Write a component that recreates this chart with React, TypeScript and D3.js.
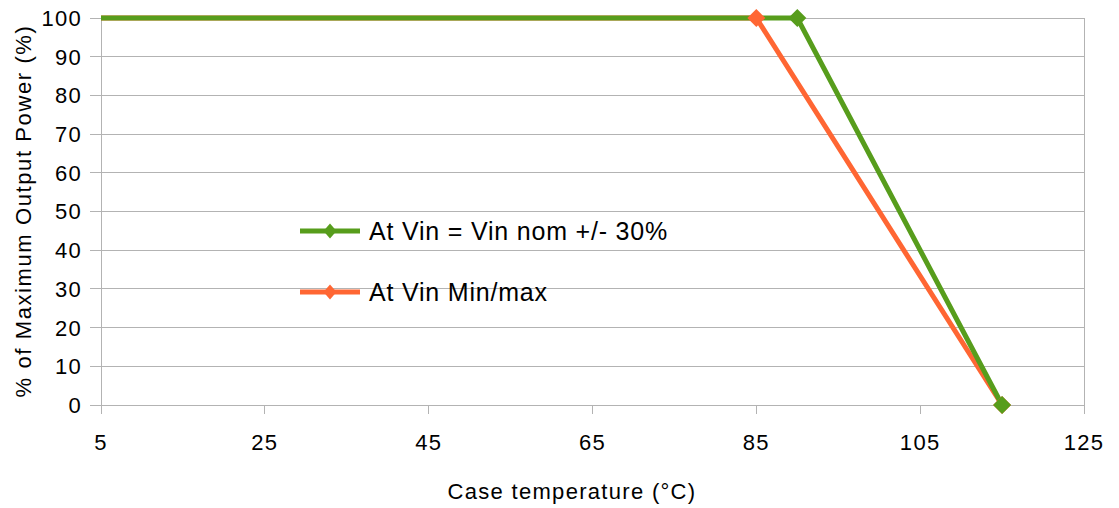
import React from "react";
import * as d3 from "d3";

// Derating curves: case temperature (°C) vs % of max output power
const nomTemps = [-40, 90, 115];
const nomPower = [100, 100, 0];
const minMaxTemps = [-40, 85, 115];
const minMaxPower = [100, 100, 0];

const xTicks = [5, 25, 45, 65, 85, 105, 125];
const yTicks = [0, 10, 20, 30, 40, 50, 60, 70, 80, 90, 100];

const seriesNames = ["At Vin = Vin nom +/- 30%", "At Vin Min/max"];
const seriesColors = ["#579d1c", "#ff6633"];

const W = 1119;
const H = 508;
const M = { left: 101, right: 1084, top: 18, bottom: 405 };

export default function App() {
  const x = d3.scaleLinear().domain([5, 125]).range([M.left, M.right]);
  const y = d3.scaleLinear().domain([0, 100]).range([M.bottom, M.top]);

  const line = d3
    .line<[number, number]>()
    .x((d) => x(d[0]))
    .y((d) => y(d[1]));

  const series = [
    { pts: nomTemps.map((t, i) => [t, nomPower[i]] as [number, number]), color: seriesColors[0], name: seriesNames[0] },
    { pts: minMaxTemps.map((t, i) => [t, minMaxPower[i]] as [number, number]), color: seriesColors[1], name: seriesNames[1] },
  ];
  // draw order: min/max first, nominal on top
  const drawOrder = [series[1], series[0]];

  const diamond = (cx: number, cy: number, rx: number, ry: number) =>
    `M${cx},${cy - ry}L${cx + rx},${cy}L${cx},${cy + ry}L${cx - rx},${cy}Z`;

  const font = "'Liberation Sans', Arial, sans-serif";
  const grid = "#b3b3b3";

  return (
    <svg width={W} height={H} style={{ position: "absolute", left: 0, top: 0, background: "#fff" }} fontFamily={font}>
      <defs>
        <clipPath id="plotClip">
          <rect x={M.left} y={0} width={W - M.left} height={H} />
        </clipPath>
      </defs>
      {/* horizontal gridlines */}
      {yTicks.map((t) => (
        <line key={"g" + t} x1={M.left - 11} x2={M.right} y1={y(t)} y2={y(t)} stroke={grid} strokeWidth={1} shapeRendering="crispEdges" />
      ))}
      {/* axes + right border */}
      <line x1={M.left} x2={M.left} y1={M.top} y2={M.bottom + 9} stroke={grid} shapeRendering="crispEdges" />
      <line x1={M.right} x2={M.right} y1={M.top} y2={M.bottom + 9} stroke={grid} shapeRendering="crispEdges" />
      {xTicks.map((t) => (
        <line key={"xt" + t} x1={x(t)} x2={x(t)} y1={M.bottom} y2={M.bottom + 9} stroke={grid} shapeRendering="crispEdges" />
      ))}
      {/* tick labels */}
      {yTicks.map((t) => (
        <text key={"yl" + t} x={82} y={y(t)} dy="0.36em" textAnchor="end" fontSize={22} letterSpacing={1.3} fill="#000">
          {t}
        </text>
      ))}
      {xTicks.map((t) => (
        <text key={"xl" + t} x={x(t)} y={450} textAnchor="middle" fontSize={22} letterSpacing={1.3} fill="#000">
          {t}
        </text>
      ))}
      {/* axis titles */}
      <text x={572} y={499} textAnchor="middle" fontSize={22} letterSpacing={1.3} fill="#000">
        Case temperature (°C)
      </text>
      <text transform={`translate(31,${211}) rotate(-90)`} textAnchor="middle" fontSize={22} letterSpacing={1.6} fill="#000">
        % of Maximum Output Power (%)
      </text>
      {/* series lines */}
      <g clipPath="url(#plotClip)">
        {drawOrder.map((s) => (
          <path key={"l" + s.name} d={line(s.pts) || ""} fill="none" stroke={s.color} strokeWidth={5} strokeLinejoin="miter" />
        ))}
        {drawOrder.map((s) =>
          s.pts.map((p, i) => <path key={s.name + i} d={diamond(x(p[0]), y(p[1]), 9, 9)} fill={s.color} />)
        )}
      </g>
      {/* legend */}
      {series.map((s, i) => {
        const ly = 231 + i * 61;
        return (
          <g key={"lg" + i}>
            <line x1={300} x2={360} y1={ly} y2={ly} stroke={s.color} strokeWidth={5} />
            <path d={diamond(330, ly, 6.5, 7.5)} fill={s.color} />
            <text x={369} y={ly} dy="0.36em" fontSize={25} letterSpacing={0.8} fill="#000">
              {s.name}
            </text>
          </g>
        );
      })}
    </svg>
  );
}
